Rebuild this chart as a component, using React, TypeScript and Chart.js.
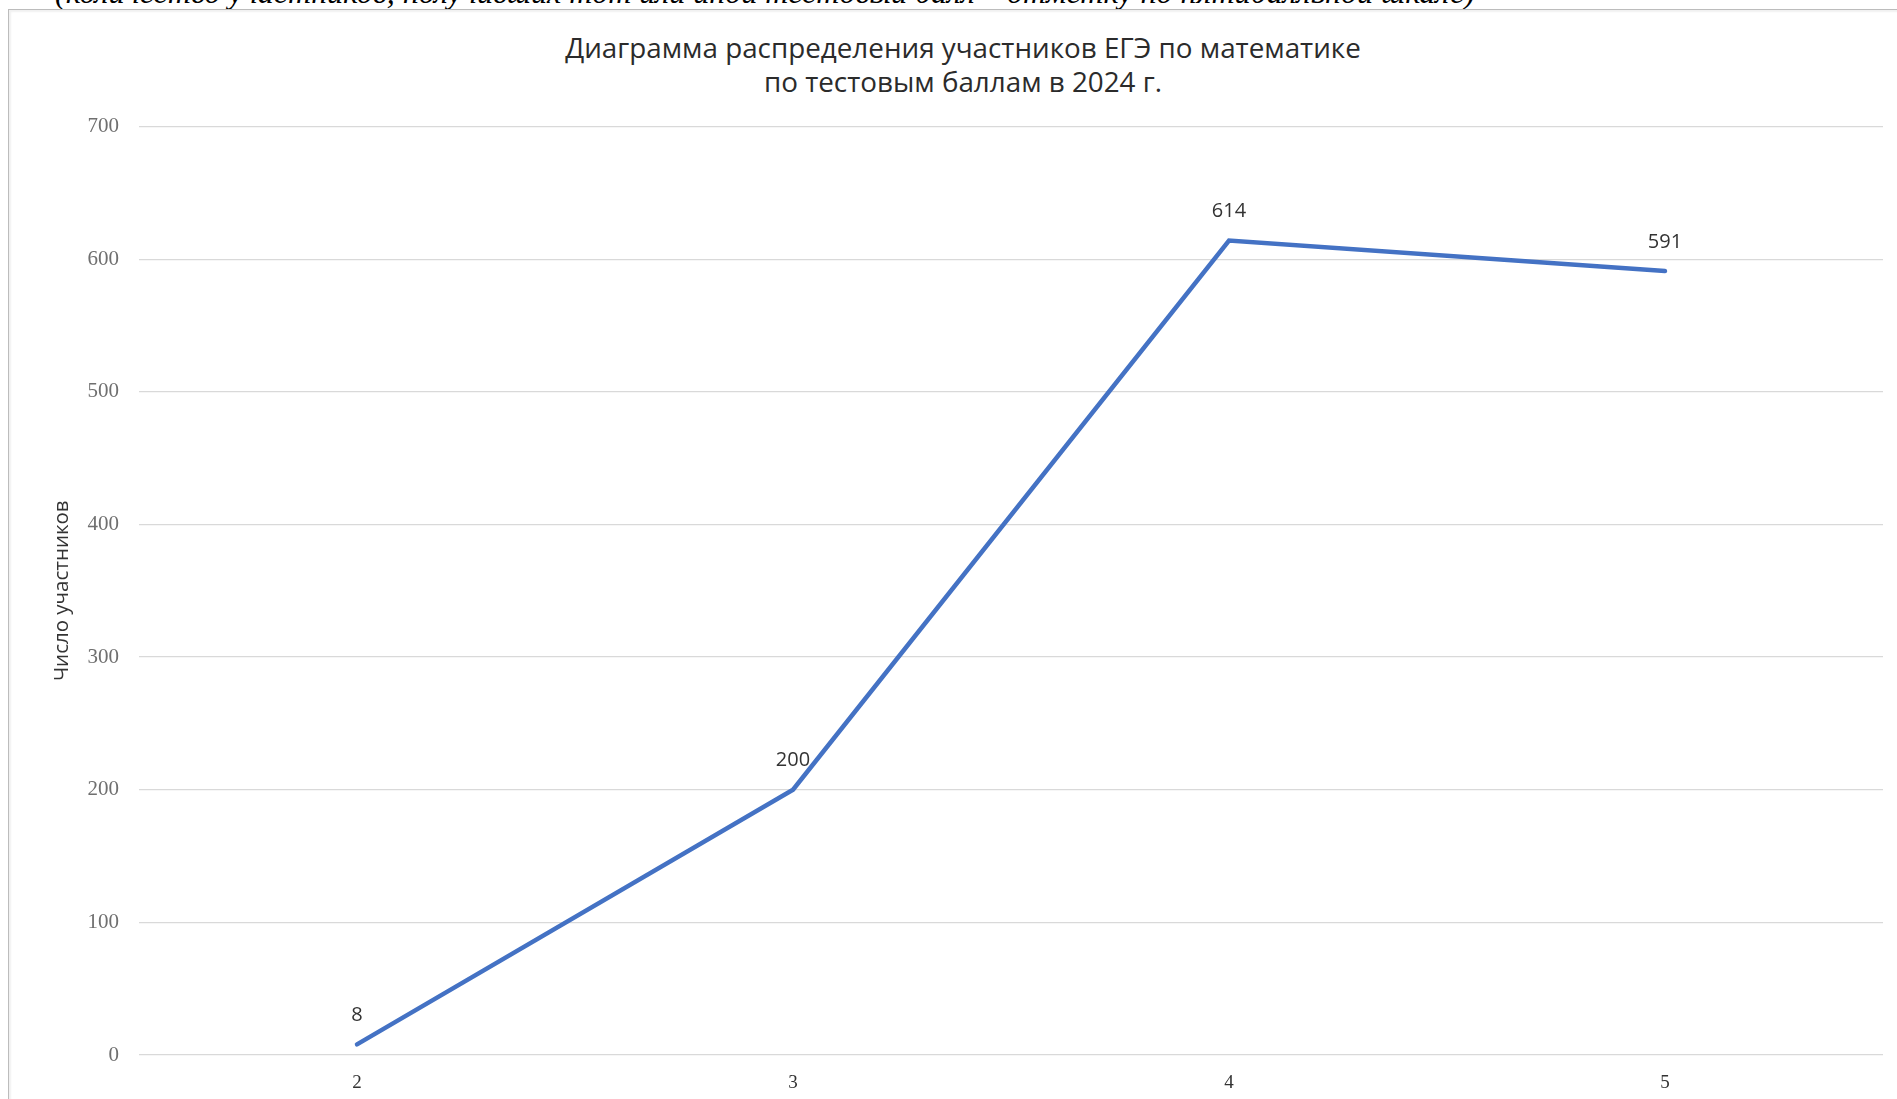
import React, { useEffect, useRef } from "react";
import { Chart, registerables } from "chart.js";

Chart.register(...registerables);

const categories = ["2", "3", "4", "5"];
const participants = [8, 200, 614, 591];
const yTicks = [0, 100, 200, 300, 400, 500, 600, 700];
const titleLines = [
  "Диаграмма распределения участников ЕГЭ по математике",
  "по тестовым баллам в 2024 г.",
];
const yAxisTitle = "Число участников";
const captionText =
  "(количество участников, получивших тот или иной тестовый балл – отметку по пятибалльной шкале)";

const valueLabels = {
  id: "valueLabels",
  afterDatasetsDraw(chart: any) {
    const ctx = chart.ctx;
    const meta = chart.getDatasetMeta(0);
    const data = chart.data.datasets[0].data as number[];
    ctx.save();
    ctx.font = '20px "Open Sans"';
    ctx.fillStyle = "#333333";
    ctx.textAlign = "center";
    ctx.textBaseline = "middle";
    meta.data.forEach((pt: any, i: number) => {
      ctx.fillText(String(data[i]), pt.x, pt.y - 29);
    });
    ctx.restore();
  },
};

export default function App() {
  const canvasRef = useRef<HTMLCanvasElement | null>(null);

  useEffect(() => {
    document.body.style.overflow = "hidden";
    const canvas = canvasRef.current;
    if (!canvas) return;
    const chart = new Chart(canvas, {
      type: "line",
      data: {
        labels: categories,
        datasets: [
          {
            data: participants,
            borderColor: "#4472C4",
            backgroundColor: "#4472C4",
            borderWidth: 4.5,
            pointRadius: 0,
            tension: 0,
            borderCapStyle: "round",
            borderJoinStyle: "miter",
          },
        ],
      },
      options: {
        animation: false,
        responsive: false,
        maintainAspectRatio: false,
        layout: { padding: { left: 0, right: 14, top: 116.5, bottom: 0 } },
        plugins: {
          legend: { display: false },
          title: { display: false },
          tooltip: { enabled: false },
        },
        scales: {
          x: {
            type: "category",
            offset: true,
            grid: { display: false, drawTicks: false },
            border: { display: false },
            ticks: {
              padding: 16.5,
              color: "#333333",
              font: { family: '"Liberation Serif"', size: 19, lineHeight: 1.2 },
            },
            afterFit(scale: any) {
              scale.height = 44;
            },
          },
          y: {
            min: 0,
            max: 700,
            afterBuildTicks(scale: any) {
              scale.ticks = yTicks.map((v) => ({ value: v }));
            },
            grid: { color: "#d9d9d9", lineWidth: 1.2, drawTicks: false },
            border: { display: false },
            ticks: {
              padding: 20,
              color: "#6f6f6f",
              font: { family: '"Liberation Serif"', size: 21, lineHeight: 1.2 },
            },
            title: {
              display: true,
              text: yAxisTitle,
              color: "#333333",
              font: { family: '"Open Sans"', size: 20.5, lineHeight: 1.2 },
              padding: { top: 41, bottom: 0 },
            },
            afterFit(scale: any) {
              scale.width = 130;
            },
          },
        },
      },
      plugins: [valueLabels],
    });
    return () => chart.destroy();
  }, []);

  return (
    <div>
      <div
        style={{
          position: "absolute",
          left: 55,
          top: -24,
          fontFamily: '"Liberation Serif"',
          fontStyle: "italic",
          fontSize: 32,
          lineHeight: "32px",
          whiteSpace: "nowrap",
          color: "#000",
        }}
      >
        {captionText}
      </div>
      <div
        style={{
          position: "absolute",
          left: 8,
          top: 9,
          width: 1889,
          height: 1090,
          borderLeft: "1px solid #bcbcbc",
          borderTop: "1px solid #bcbcbc",
          boxShadow: "inset 2px 2px 2px rgba(0,0,0,0.06)",
          background: "#fff",
          overflow: "hidden",
        }}
      >
        <div
          style={{
            position: "absolute",
            left: 0,
            top: 20,
            width: 1908,
            textAlign: "center",
            fontFamily: '"Open Sans"',
            fontSize: 27.8,
            fontWeight: 400,
            lineHeight: "34px",
            color: "#2b2b2b",
            whiteSpace: "nowrap",
          }}
        >
          {titleLines.map((l) => (
            <div key={l}>{l}</div>
          ))}
        </div>
        <canvas
          ref={canvasRef}
          width={1888}
          height={1089}
          style={{ position: "absolute", left: 0, top: 0, width: 1888, height: 1089 }}
        />
      </div>
    </div>
  );
}
